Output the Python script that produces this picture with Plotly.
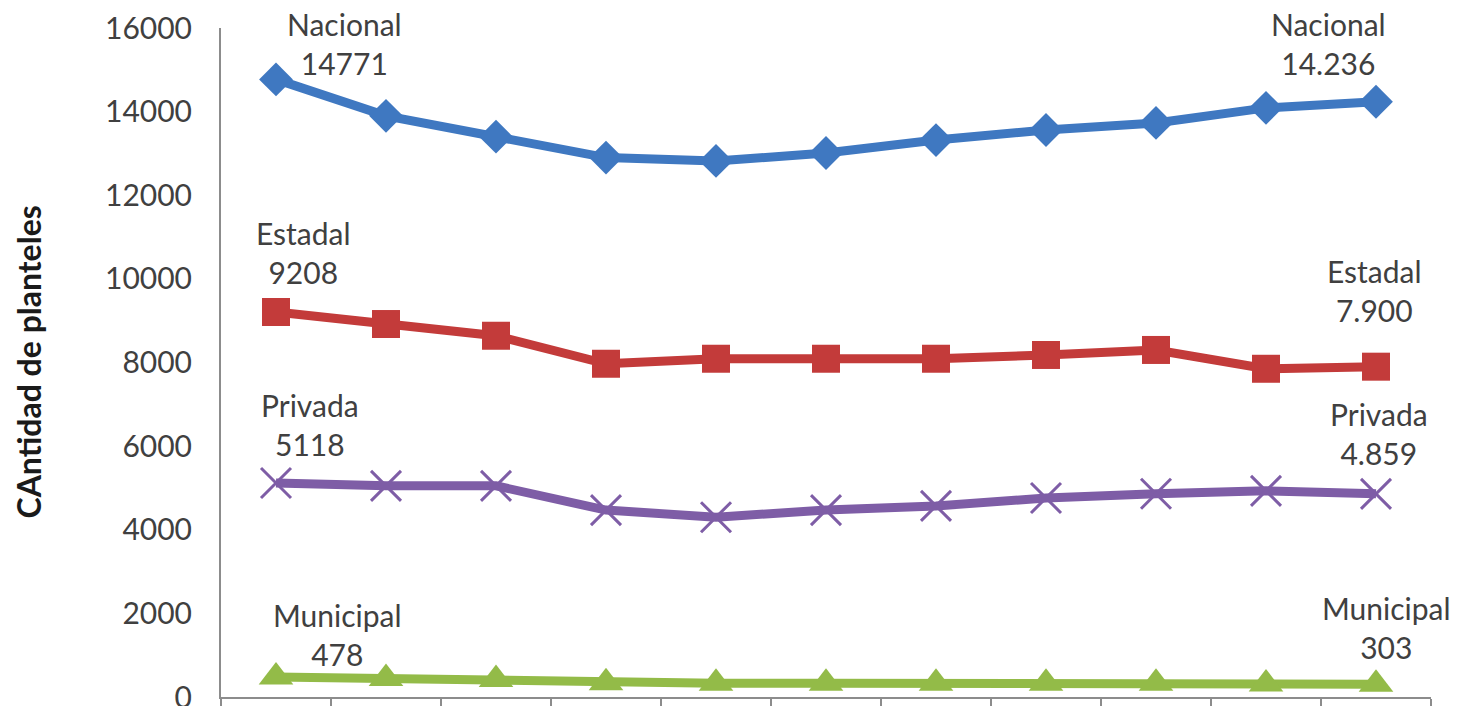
import plotly.graph_objects as go

periodos = ["P1", "P2", "P3", "P4", "P5", "P6", "P7", "P8", "P9", "P10", "P11"]

nacional = [14771, 13900, 13400, 12900, 12820, 13010, 13320, 13560, 13730, 14090, 14236]
estadal = [9208, 8920, 8640, 7970, 8090, 8090, 8090, 8180, 8300, 7850, 7900]
privada = [5118, 5050, 5050, 4470, 4300, 4470, 4570, 4760, 4860, 4930, 4859]
municipal = [478, 440, 420, 340, 330, 330, 330, 330, 330, 310, 303]

nombres = ["Nacional", "Estadal", "Privada", "Municipal"]
etiqueta_inicio = ["14771", "9208", "5118", "478"]
etiqueta_fin = ["14.236", "7.900", "4.859", "303"]

colores = ["#3F78C1", "#C33B3A", "#7E5DA6", "#93BB48"]
simbolos = ["diamond", "square", "x-thin-open", "triangle-up"]
tamanos = [26, 28, 30, 30]

FONT = "Lato"
TXT = "#404040"

fig = go.Figure()
series = [nacional, estadal, privada, municipal]
for nombre, vals, col, sym, sz in zip(nombres, series, colores, simbolos, tamanos):
    marker = dict(symbol=sym, size=sz, color=col)
    if sym == "x-thin-open":
        marker["line"] = dict(color=col, width=3)
    else:
        marker["line"] = dict(width=0)
    fig.add_trace(go.Scatter(
        x=periodos, y=vals, name=nombre, mode="lines+markers",
        line=dict(color=col, width=9), marker=marker, cliponaxis=False,
    ))

# label offsets (px): (xshift, yshift) for start and end labels
off_inicio = [(68, 36), (27, 59), (34, 59), (61, 43)]
off_fin = [(-48, 58), (-2, 76), (3, 60), (10, 57)]

for i, nombre in enumerate(nombres):
    vals = series[i]
    fig.add_annotation(x=periodos[0], y=vals[0], xref="x", yref="y",
                       text=f"{nombre}<br>{etiqueta_inicio[i]}", showarrow=False,
                       xanchor="center", yanchor="middle",
                       xshift=off_inicio[i][0], yshift=off_inicio[i][1],
                       font=dict(family=FONT, size=30, color=TXT))
    fig.add_annotation(x=periodos[-1], y=vals[-1], xref="x", yref="y",
                       text=f"{nombre}<br>{etiqueta_fin[i]}", showarrow=False,
                       xanchor="center", yanchor="middle",
                       xshift=off_fin[i][0], yshift=off_fin[i][1],
                       font=dict(family=FONT, size=30, color=TXT))

fig.add_annotation(x=0, y=0.5, xref="paper", yref="paper", xshift=-193,
                   text="<b>CAntidad de planteles</b>", textangle=-90,
                   showarrow=False, xanchor="center", yanchor="middle",
                   font=dict(family=FONT, size=32, color="#1a1a1a"))

fig.update_layout(
    width=1458, height=706,
    margin=dict(l=221, r=27, t=28, b=9, autoexpand=False),
    paper_bgcolor="white", plot_bgcolor="white",
    showlegend=False,
    font=dict(family=FONT, color=TXT),
)
fig.update_xaxes(
    type="category", range=[-0.5, 10.5], showticklabels=False, automargin=False,
    showline=True, linecolor="#8C8C8C", linewidth=2,
    ticks="outside", tickson="boundaries", ticklen=10, tickcolor="#8C8C8C", tickwidth=2,
    showgrid=False, zeroline=False,
)
fig.update_yaxes(
    range=[0, 16000], tickvals=[0, 2000, 4000, 6000, 8000, 10000, 12000, 14000, 16000],
    tickformat="d", showline=True, linecolor="#8C8C8C", linewidth=2, automargin=False,
    ticks="", showgrid=False, zeroline=False, ticklabeloverflow="allow",
    tickfont=dict(family=FONT, size=30, color=TXT), ticklabelstandoff=21,
)

fig.write_html("out.html", config={"displayModeBar": False},
               post_script="document.body.style.margin='0';")
